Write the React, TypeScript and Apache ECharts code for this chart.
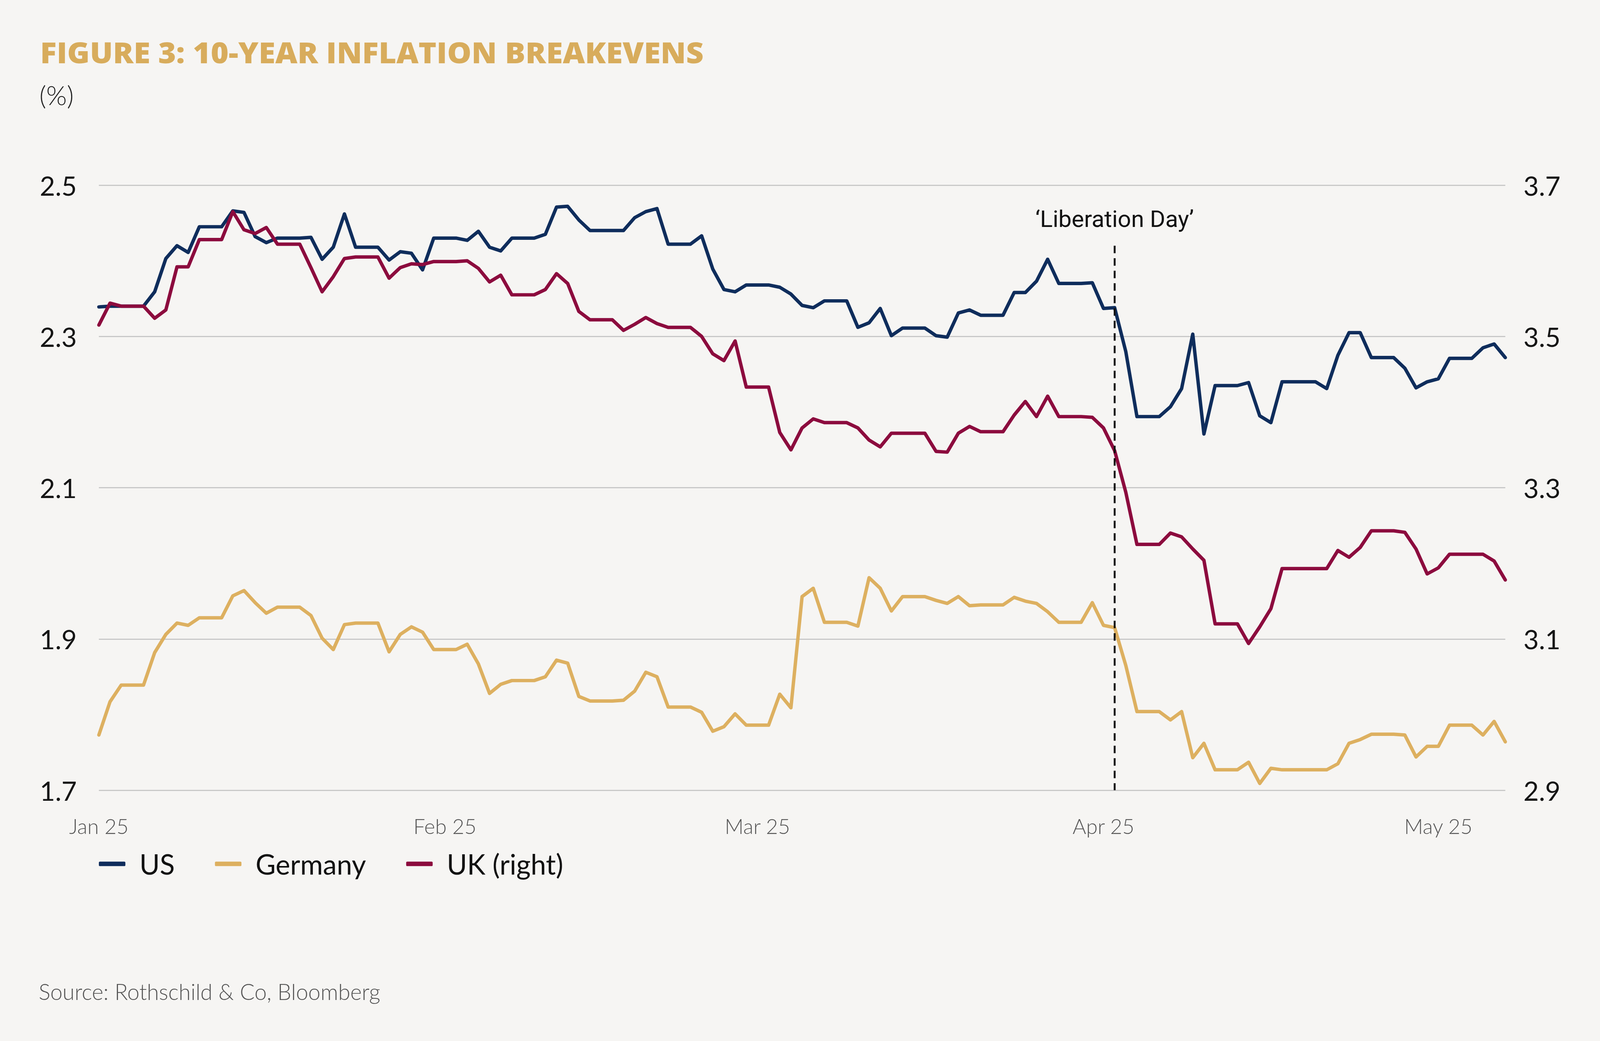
import React, { useEffect, useRef, useState } from "react";
import * as echarts from "echarts";

// ---------- data (daily, Jan 1 2025 – May 7 2025) ----------
const START_DATE = "2025-01-01";

const US = [
  2.339, 2.340, 2.340, 2.340, 2.340, 2.359, 2.403, 2.420, 2.411, 2.445,
  2.445, 2.445, 2.466, 2.464, 2.432, 2.424, 2.430, 2.430, 2.430, 2.431,
  2.402, 2.418, 2.462, 2.418, 2.418, 2.418, 2.401, 2.412, 2.410, 2.388,
  2.430, 2.430, 2.430, 2.427, 2.439, 2.418, 2.413, 2.430, 2.430, 2.430,
  2.435, 2.471, 2.472, 2.454, 2.440, 2.440, 2.440, 2.440, 2.457, 2.465,
  2.469, 2.422, 2.422, 2.422, 2.433, 2.389, 2.362, 2.359, 2.368, 2.368,
  2.368, 2.365, 2.356, 2.341, 2.338, 2.347, 2.347, 2.347, 2.312, 2.318,
  2.337, 2.301, 2.311, 2.311, 2.311, 2.301, 2.299, 2.331, 2.335, 2.328,
  2.328, 2.328, 2.358, 2.358, 2.373, 2.402, 2.370, 2.370, 2.370, 2.371,
  2.337, 2.338, 2.280, 2.194, 2.194, 2.194, 2.207, 2.231, 2.303, 2.171,
  2.235, 2.235, 2.235, 2.239, 2.195, 2.186, 2.240, 2.240, 2.240, 2.240,
  2.231, 2.275, 2.305, 2.305, 2.272, 2.272, 2.272, 2.258, 2.232, 2.240,
  2.244, 2.271, 2.271, 2.271, 2.285, 2.290, 2.272,
];

const GERMANY = [
  1.773, 1.817, 1.839, 1.839, 1.839, 1.882, 1.906, 1.921, 1.918, 1.928,
  1.928, 1.928, 1.957, 1.964, 1.948, 1.934, 1.942, 1.942, 1.942, 1.931,
  1.901, 1.886, 1.919, 1.921, 1.921, 1.921, 1.883, 1.906, 1.916, 1.909,
  1.886, 1.886, 1.886, 1.893, 1.867, 1.828, 1.840, 1.845, 1.845, 1.845,
  1.850, 1.872, 1.868, 1.824, 1.818, 1.818, 1.818, 1.819, 1.831, 1.856,
  1.850, 1.810, 1.810, 1.810, 1.803, 1.778, 1.784, 1.801, 1.786, 1.786,
  1.786, 1.827, 1.809, 1.956, 1.967, 1.922, 1.922, 1.922, 1.917, 1.981,
  1.967, 1.937, 1.956, 1.956, 1.956, 1.951, 1.947, 1.956, 1.944, 1.945,
  1.945, 1.945, 1.955, 1.950, 1.947, 1.936, 1.922, 1.922, 1.922, 1.948,
  1.918, 1.915, 1.865, 1.804, 1.804, 1.804, 1.793, 1.804, 1.743, 1.762,
  1.727, 1.727, 1.727, 1.737, 1.709, 1.729, 1.727, 1.727, 1.727, 1.727,
  1.727, 1.735, 1.762, 1.767, 1.774, 1.774, 1.774, 1.773, 1.744, 1.758,
  1.758, 1.786, 1.786, 1.786, 1.773, 1.791, 1.764,
];

const UK = [
  3.515, 3.544, 3.540, 3.540, 3.540, 3.524, 3.535, 3.592, 3.592, 3.628,
  3.628, 3.628, 3.665, 3.641, 3.636, 3.644, 3.622, 3.622, 3.622, 3.591,
  3.559, 3.579, 3.603, 3.605, 3.605, 3.605, 3.577, 3.591, 3.596, 3.595,
  3.599, 3.599, 3.599, 3.600, 3.590, 3.572, 3.581, 3.555, 3.555, 3.555,
  3.562, 3.583, 3.570, 3.533, 3.522, 3.522, 3.522, 3.508, 3.516, 3.525,
  3.517, 3.512, 3.512, 3.512, 3.500, 3.477, 3.468, 3.494, 3.433, 3.433,
  3.433, 3.373, 3.350, 3.379, 3.391, 3.386, 3.386, 3.386, 3.379, 3.363,
  3.354, 3.372, 3.372, 3.372, 3.372, 3.348, 3.347, 3.372, 3.381, 3.374,
  3.374, 3.374, 3.396, 3.414, 3.394, 3.421, 3.394, 3.394, 3.394, 3.393,
  3.379, 3.349, 3.294, 3.225, 3.225, 3.225, 3.240, 3.235, 3.219, 3.204,
  3.120, 3.120, 3.120, 3.094, 3.116, 3.140, 3.193, 3.193, 3.193, 3.193,
  3.193, 3.217, 3.208, 3.221, 3.243, 3.243, 3.243, 3.241, 3.219, 3.186,
  3.194, 3.212, 3.212, 3.212, 3.212, 3.203, 3.178,
];

const SERIES_NAMES = ["US", "Germany", "UK (right)"];
const MONTH_LABELS: Record<string, string> = {
  "2025-01-01": "Jan 25",
  "2025-02-01": "Feb 25",
  "2025-03-01": "Mar 25",
  "2025-04-01": "Apr 25",
  "2025-05-01": "May 25",
};
const LEFT_AXIS = { min: 1.7, max: 2.5, step: 0.2 };
const RIGHT_AXIS = { min: 2.9, max: 3.7, step: 0.2 };
const LIBERATION_DAY = "2025-04-02";
const LIBERATION_LABEL = "\u2018Liberation Day\u2019";
const LIBERATION_TOP = 2.42;

const TITLE = "FIGURE 3: 10-YEAR INFLATION BREAKEVENS";
const UNIT = "(%)";
const SOURCE = "Source: Rothschild & Co, Bloomberg";

function buildDates(start: string, n: number): string[] {
  const out: string[] = [];
  const t0 = Date.parse(start + "T00:00:00Z");
  for (let i = 0; i < n; i++) {
    out.push(new Date(t0 + i * 86400000).toISOString().slice(0, 10));
  }
  return out;
}
const DATES = buildDates(START_DATE, US.length);

// ---------- style (reference pixel space 4224 x 2665) ----------
const REF_W = 4224;
const REF_H = 2665;
const BG = "#F6F5F3";
const C_US = "#0F2D5C";
const C_DE = "#DDB060";
const C_UK = "#8C0B3E";
const C_TITLE = "#D8AC5C";
const FONT = "Lato, 'Noto Sans', sans-serif";

export default function App() {
  const ref = useRef<HTMLDivElement>(null);
  const [size] = useState(() => ({
    w: window.innerWidth || REF_W,
    h: window.innerHeight || REF_H,
  }));

  useEffect(() => {
    document.body.style.margin = "0";
    document.body.style.overflow = "hidden";
    document.body.style.background = BG;
    if (!ref.current) return;
    const sx = size.w / REF_W;
    const sy = size.h / REF_H;
    const f = Math.min(sx, sy);
    const X = (v: number) => v * sx;
    const Y = (v: number) => v * sy;
    const S = (v: number) => v * f;

    const chart = echarts.init(ref.current, undefined, { renderer: "svg" });

    const lineSeries = (name: string, data: number[], color: string, yAxisIndex: number) => ({
      name,
      type: "line",
      data,
      yAxisIndex,
      symbol: "none",
      showSymbol: false,
      lineStyle: { color, width: S(9), join: "round", cap: "round" },
      itemStyle: { color },
      emphasis: { disabled: true },
    });

    const us: any = lineSeries(SERIES_NAMES[0], US, C_US, 0);
    us.markLine = {
      silent: true,
      symbol: ["none", "none"],
      lineStyle: { color: "#111", width: S(5), type: [S(20), S(13)] },
      label: {
        show: true,
        position: "start",
        formatter: LIBERATION_LABEL,
        fontSize: S(62),
        fontFamily: "Roboto, 'Noto Sans', sans-serif",
        color: "#111",
        distance: Y(38),
      },
      data: [
        [
          { coord: [LIBERATION_DAY, LIBERATION_TOP] },
          { coord: [LIBERATION_DAY, LEFT_AXIS.min] },
        ],
      ],
    };

    const yLabel = (margin: number) => ({
      formatter: (v: number) => v.toFixed(1),
      align: "left",
      margin: X(margin),
      fontSize: S(70),
      fontFamily: FONT,
      fontWeight: 400,
      color: "#151515",
    });

    chart.setOption({
      animation: false,
      backgroundColor: BG,
      grid: {
        left: X(261),
        right: X(REF_W - 3974),
        top: Y(474),
        bottom: Y(REF_H - 2023),
        containLabel: false,
      },
      legend: {
        data: SERIES_NAMES,
        left: X(261),
        top: Y(2176),
        icon: "roundRect",
        itemWidth: S(70),
        itemHeight: S(12),
        itemGap: S(106),
        padding: 0,
        textStyle: {
          fontSize: S(73),
          fontFamily: FONT,
          color: "#111",
          padding: [0, 0, 0, S(32)],
        },
      },
      xAxis: {
        type: "category",
        data: DATES,
        boundaryGap: false,
        axisLine: { show: false },
        axisTick: { show: false },
        splitLine: { show: false },
        axisLabel: {
          interval: (_i: number, v: string) => v in MONTH_LABELS,
          formatter: (v: string) => MONTH_LABELS[v] ?? "",
          fontSize: S(55),
          fontFamily: FONT,
          fontWeight: 300,
          color: "#555",
          margin: Y(64),
        },
      },
      yAxis: [
        {
          type: "value",
          position: "left",
          min: LEFT_AXIS.min,
          max: LEFT_AXIS.max,
          interval: LEFT_AXIS.step,
          axisLine: { show: false },
          axisTick: { show: false },
          splitLine: { show: true, lineStyle: { color: "#C8C8C8", width: S(3) } },
          axisLabel: yLabel(156),
        },
        {
          type: "value",
          position: "right",
          min: RIGHT_AXIS.min,
          max: RIGHT_AXIS.max,
          interval: RIGHT_AXIS.step,
          axisLine: { show: false },
          axisTick: { show: false },
          splitLine: { show: false },
          axisLabel: yLabel(48),
        },
      ],
      graphic: [
        {
          type: "text",
          x: X(106),
          y: Y(96),
          scaleX: 1.06,
          style: {
            text: TITLE,
            fontSize: S(76),
            fontWeight: 800,
            fontFamily: "'Open Sans', sans-serif",
            fill: C_TITLE,
          },
        },
        {
          type: "text",
          x: X(104),
          y: Y(208),
          style: {
            text: UNIT,
            fontSize: S(70),
            fontWeight: 300,
            fontFamily: FONT,
            fill: "#222",
          },
        },
        {
          type: "text",
          x: X(102),
          y: Y(2510),
          style: {
            text: SOURCE,
            fontSize: S(58),
            fontWeight: 300,
            fontFamily: FONT,
            fill: "#555",
          },
        },
      ],
      series: [
        us,
        lineSeries(SERIES_NAMES[1], GERMANY, C_DE, 0),
        lineSeries(SERIES_NAMES[2], UK, C_UK, 1),
      ],
    });

    return () => chart.dispose();
  }, [size]);

  return <div ref={ref} style={{ width: size.w, height: size.h, background: BG }} />;
}
